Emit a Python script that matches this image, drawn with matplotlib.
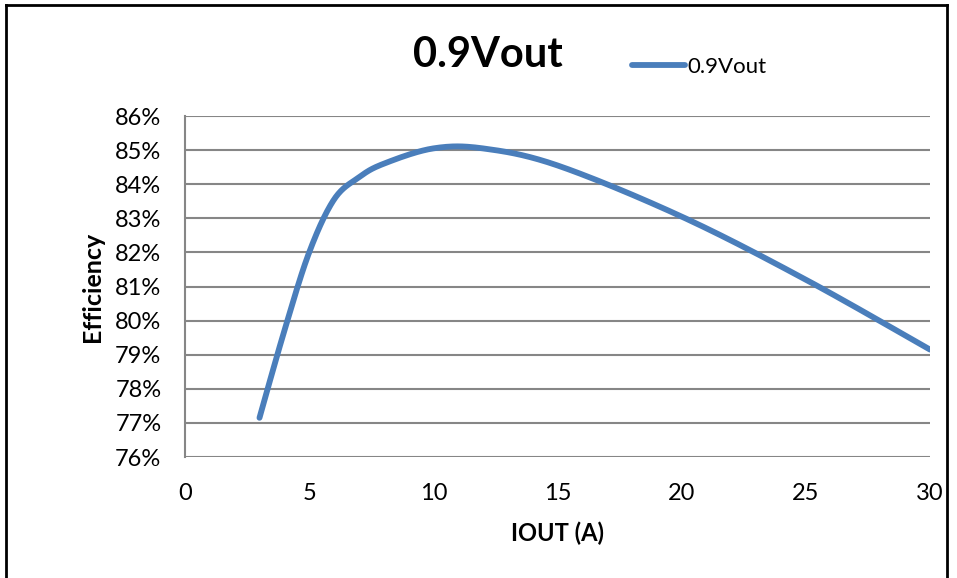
import numpy as np
import matplotlib
matplotlib.use("Agg")
import matplotlib.pyplot as plt
from matplotlib.lines import Line2D
from matplotlib.ticker import FuncFormatter

# Data
iout = [3, 4, 5, 6, 7, 8, 10, 12, 15, 20, 25, 30]
efficiency = [77.15, 79.7, 82.0, 83.55, 84.2, 84.6, 85.05, 85.05, 84.55, 83.05, 81.2, 79.15]
series_name = "0.9Vout"
title = "0.9Vout"
x_ticks = [0, 5, 10, 15, 20, 25, 30]
y_ticks = list(range(76, 87))

plt.rcParams['font.family'] = ['Lato', 'DejaVu Sans']


def smooth(xs, ys, n=30):
    # Excel-like smoothed line: cubic Bezier segments with Catmull-Rom style control points
    xs = np.asarray(xs, float)
    ys = np.asarray(ys, float)
    px = np.concatenate([[xs[0]], xs, [xs[-1]]])
    py = np.concatenate([[ys[0]], ys, [ys[-1]]])
    out_x, out_y = [], []
    t = np.linspace(0, 1, n)
    for i in range(1, len(px) - 2):
        p0 = np.array([px[i], py[i]])
        p3 = np.array([px[i + 1], py[i + 1]])
        c1 = p0 + (np.array([px[i + 1], py[i + 1]]) - np.array([px[i - 1], py[i - 1]])) / 6
        c2 = p3 - (np.array([px[i + 2], py[i + 2]]) - np.array([px[i], py[i]])) / 6
        b = ((1 - t) ** 3)[:, None] * p0 + (3 * (1 - t) ** 2 * t)[:, None] * c1 \
            + (3 * (1 - t) * t ** 2)[:, None] * c2 + (t ** 3)[:, None] * p3
        out_x.extend(b[:, 0])
        out_y.extend(b[:, 1])
    return np.array(out_x), np.array(out_y)


fig = plt.figure(figsize=(9.57, 5.78), dpi=100)
ax = fig.add_axes([0.1933, 0.2093, 0.9718 - 0.1933, 0.7993 - 0.2093])

sx, sy = smooth(iout, efficiency)
line, = ax.plot(sx, sy, color='#4a7ebb', linewidth=4.2, solid_capstyle='round',
                label=series_name, zorder=3)

ax.set_xlim(0, 30)
ax.set_ylim(76, 86)
ax.set_xticks(x_ticks)
ax.set_yticks(y_ticks)
ax.yaxis.set_major_formatter(FuncFormatter(lambda v, p: f"{int(round(v))}%"))
ax.grid(axis='y', color='#868686', linewidth=1.5)
ax.set_axisbelow(True)
for s in ['top', 'right', 'bottom']:
    ax.spines[s].set_visible(False)
ax.spines['left'].set_color('#868686')
ax.spines['left'].set_linewidth(1.5)
ax.tick_params(axis='both', length=0, labelsize=17, colors='black')
ax.tick_params(axis='x', pad=19)
ax.tick_params(axis='y', pad=17)

ax.set_xlabel("IOUT (A)", fontsize=17, fontweight='bold')
ax.set_ylabel("Efficiency", fontsize=18, fontweight='bold')
ax.xaxis.set_label_coords((557 - 185) / (930 - 185), -(533 - 457) / (457 - 116))
ax.yaxis.set_label_coords(-(185 - 93) / (930 - 185), 0.5)
for lbl in [ax.xaxis.label, ax.yaxis.label]:
    lbl.set_va('center')

fig.text(488 / 957, 1 - 55 / 578, title, fontsize=30, fontweight='bold', ha='center', va='center')
fig.legend(handles=[line], labels=[series_name], loc='center left',
           bbox_to_anchor=(632 / 957, 1 - 67 / 578), frameon=False, fontsize=16,
           handlelength=2.4, handletextpad=0.1, borderpad=0, borderaxespad=0)

# Chart frame
fw, fh = 957, 578
fig.add_artist(Line2D([6 / fw, 6 / fw], [0, 1 - 5 / fh], color='black', linewidth=2, transform=fig.transFigure))
fig.add_artist(Line2D([6 / fw, 947 / fw], [1 - 5 / fh, 1 - 5 / fh], color='black', linewidth=2, transform=fig.transFigure))
fig.add_artist(Line2D([947 / fw, 947 / fw], [0, 1 - 5 / fh], color='black', linewidth=2, transform=fig.transFigure))

fig.savefig("out.png", dpi=100)
